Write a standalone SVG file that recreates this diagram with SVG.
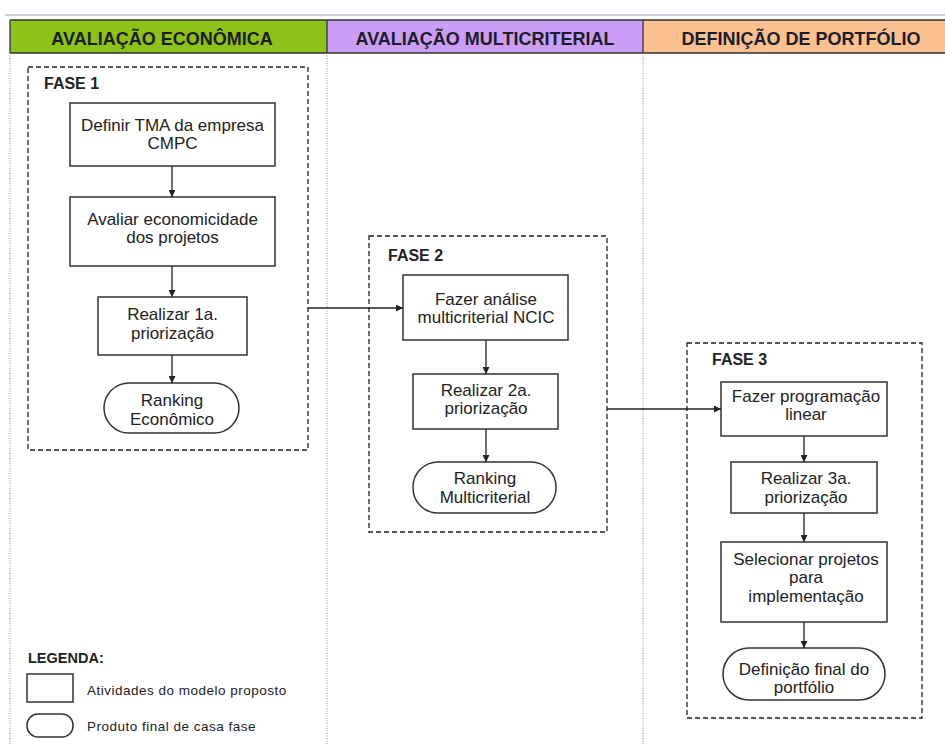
<svg xmlns="http://www.w3.org/2000/svg" width="945" height="745" viewBox="0 0 945 745">
<defs>
<marker id="ah" viewBox="0 0 10 10" refX="10" refY="5" markerWidth="7" markerHeight="7" markerUnits="userSpaceOnUse" orient="auto">
<path d="M0,0 L10,5 L0,10 z" fill="#222"/>
</marker>
</defs>
<style>
.hdr{font-family:"Liberation Sans",Arial,sans-serif;font-weight:bold;font-size:18px;fill:#1c1c2a;text-anchor:middle}
.sep{stroke:#8a8a8a;stroke-width:1;stroke-dasharray:1,1.5;fill:none}
.phase{fill:none;stroke:#222;stroke-width:1.3;stroke-dasharray:5,3}
.ph{font-family:"Liberation Sans",Arial,sans-serif;font-weight:bold;font-size:16px;fill:#222}
.box{fill:#fff;stroke:#333;stroke-width:1.5}
.t{font-family:"Liberation Sans",Arial,sans-serif;font-size:17px;fill:#222;text-anchor:middle}
.con{stroke:#222;stroke-width:1.3;fill:none;marker-end:url(#ah)}
.lg{font-family:"Liberation Sans",Arial,sans-serif;font-size:13.5px;letter-spacing:0.5px;fill:#222}
</style>
<rect x="0" y="0" width="945" height="745" fill="#fff"/>
<line x1="5" y1="15" x2="945" y2="15" stroke="#c8cfd9" stroke-width="2"/>
<g id="header">
<rect x="10" y="20" width="317" height="33" fill="#8dc21a"/>
<rect x="327" y="20" width="316" height="33" fill="#cb9df5"/>
<rect x="643" y="20" width="302" height="33" fill="#fac08f"/>
<path d="M10,20 H945 M10,53 H945 M10,20 V53 M327,20 V53 M643,20 V53" stroke="#333" stroke-width="1.3" fill="none"/>
<text class="hdr" x="162" y="45">AVALIAÇÃO ECONÔMICA</text>
<text class="hdr" x="485" y="45">AVALIAÇÃO MULTICRITERIAL</text>
<text class="hdr" x="801" y="45">DEFINIÇÃO DE PORTFÓLIO</text>
</g>
<g id="columns">
<line class="sep" x1="10" y1="53" x2="10" y2="745"/>
<line class="sep" x1="327" y1="53" x2="327" y2="745"/>
<line class="sep" x1="643" y1="53" x2="643" y2="745"/>
</g>
<g id="fase1">
<rect class="phase" x="28" y="67" width="280" height="383"/>
<text class="ph" x="44" y="89">FASE 1</text>
</g>
<g id="fase2">
<rect class="phase" x="369" y="236" width="238" height="296"/>
<text class="ph" x="388" y="261">FASE 2</text>
</g>
<g id="fase3">
<rect class="phase" x="687" y="343" width="235" height="375"/>
<text class="ph" x="712" y="365">FASE 3</text>
</g>
<g id="n1">
<rect class="box" x="70" y="103" width="205" height="63"/>
<text class="t" x="172.5" y="131">Definir TMA da empresa</text>
<text class="t" x="172.5" y="149">CMPC</text>
</g>
<g id="n2">
<rect class="box" x="70" y="197" width="205" height="69"/>
<text class="t" x="172.5" y="225">Avaliar economicidade</text>
<text class="t" x="172.5" y="243">dos projetos</text>
</g>
<g id="n3">
<rect class="box" x="98" y="297" width="149" height="58"/>
<text class="t" x="172.5" y="320">Realizar 1a.</text>
<text class="t" x="172.5" y="339">priorização</text>
</g>
<g id="n4">
<rect class="box" x="104" y="383" width="135" height="50" rx="25" ry="25"/>
<text class="t" x="172" y="406">Ranking</text>
<text class="t" x="172" y="425">Econômico</text>
</g>
<g id="n5">
<rect class="box" x="403" y="275" width="165" height="65"/>
<text class="t" x="486" y="305">Fazer análise</text>
<text class="t" x="486" y="323">multicriterial NCIC</text>
</g>
<g id="n6">
<rect class="box" x="413" y="374" width="145" height="55"/>
<text class="t" x="486" y="396">Realizar 2a.</text>
<text class="t" x="486" y="414">priorização</text>
</g>
<g id="n7">
<rect class="box" x="413" y="462" width="143" height="51" rx="25" ry="25"/>
<text class="t" x="485" y="484">Ranking</text>
<text class="t" x="485" y="503">Multicriterial</text>
</g>
<g id="n8">
<rect class="box" x="721" y="382" width="166" height="54"/>
<text class="t" x="806" y="402">Fazer programação</text>
<text class="t" x="806" y="420">linear</text>
</g>
<g id="n9">
<rect class="box" x="731" y="462" width="146" height="51"/>
<text class="t" x="806" y="484">Realizar 3a.</text>
<text class="t" x="806" y="503">priorização</text>
</g>
<g id="n10">
<rect class="box" x="721" y="542" width="166" height="80"/>
<text class="t" x="806" y="565">Selecionar projetos</text>
<text class="t" x="806" y="583">para</text>
<text class="t" x="806" y="602">implementação</text>
</g>
<g id="n11">
<rect class="box" x="723" y="648" width="162" height="52" rx="26" ry="26"/>
<text class="t" x="804" y="675">Definição final do</text>
<text class="t" x="804" y="693">portfólio</text>
</g>
<g id="connectors">
<line class="con" x1="172" y1="166" x2="172" y2="197"/>
<line class="con" x1="172" y1="266" x2="172" y2="297"/>
<line class="con" x1="172" y1="355" x2="172" y2="383"/>
<line class="con" x1="308" y1="308" x2="403" y2="308"/>
<line class="con" x1="486" y1="340" x2="486" y2="374"/>
<line class="con" x1="486" y1="429" x2="486" y2="462"/>
<line class="con" x1="607" y1="409" x2="721" y2="409"/>
<line class="con" x1="804" y1="436" x2="804" y2="462"/>
<line class="con" x1="804" y1="513" x2="804" y2="542"/>
<line class="con" x1="804" y1="622" x2="804" y2="648"/>
</g>
<g id="legend">
<text class="ph" x="28" y="663" style="font-size:14.5px">LEGENDA:</text>
<rect class="box" x="27" y="674" width="46" height="28"/>
<text class="lg" x="87" y="695">Atividades do modelo proposto</text>
<rect class="box" x="27" y="714" width="46" height="23" rx="11" ry="11"/>
<text class="lg" x="87" y="731">Produto final de casa fase</text>
</g>
</svg>
